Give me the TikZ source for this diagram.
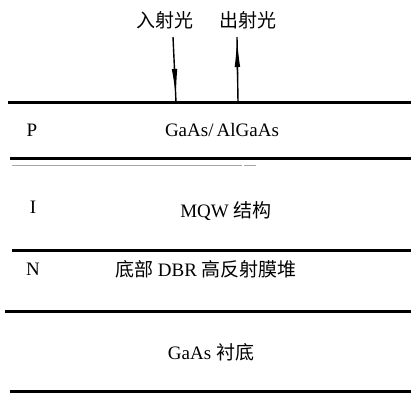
\documentclass[tikz,border=0pt]{standalone}
\usepackage{fontspec}
\setmainfont{Liberation Serif}
\newfontfamily\cjk{Noto Sans CJK SC}
\usetikzlibrary{arrows.meta}
\tikzset{
  layer/.style={line width=3pt},
  thin gray/.style={line width=1pt, draw=gray!70},
  lbl/.style={inner sep=0pt, font=\fontsize{19}{21}\selectfont},
  ray/.style={line width=1.4pt},
  rayhead/.style={-{Latex[length=30pt,width=5.5pt]}, line width=1.4pt}
}
\begin{document}
\begin{tikzpicture}[x=1pt,y=-1pt]
\useasboundingbox (0,0) rectangle (411,394);
% layer boundaries
\coordinate (l1a) at (8,102);   \coordinate (l1b) at (411,102);
\coordinate (l2a) at (10,158);  \coordinate (l2b) at (411,158);
\coordinate (g1a) at (12,165);  \coordinate (g1b) at (242,165);
\coordinate (g2a) at (244,165); \coordinate (g2b) at (256,165);
\coordinate (l3a) at (12,250);  \coordinate (l3b) at (411,250);
\coordinate (l4a) at (5,311);   \coordinate (l4b) at (411,311);
\coordinate (l5a) at (10,391);  \coordinate (l5b) at (411,391);
\draw[layer] (l1a) -- (l1b);
\draw[layer] (l2a) -- (l2b);
\draw[thin gray] (g1a) -- (g1b);
\draw[thin gray] (g2a) -- (g2b);
\draw[layer] (l3a) -- (l3b);
\draw[layer] (l4a) -- (l4b);
\draw[layer] (l5a) -- (l5b);
% labels
\node[lbl] (in)  at (165,20) {\cjk 入射光};
\node[lbl] (out) at (248,20) {\cjk 出射光};
\node[lbl] (p)   at (32,130) {P};
\node[lbl] (pt)  at (222,130) {GaAs/\,AlGaAs};
\node[lbl] (i)   at (33,207) {I};
\node[lbl] (it)  at (226,211) {MQW {\cjk 结构}};
\node[lbl] (n)   at (33,269) {N};
\node[lbl] (nt)  at (206,269) {{\cjk 底部} DBR {\cjk 高反射膜堆}};
\node[lbl] (s)   at (211,352) {GaAs {\cjk 衬底}};
% rays
\coordinate (inTop) at (173,37);
\coordinate (inMid) at (174.5,68);
\coordinate (inTip) at (176,99);
\coordinate (inBot) at (176,102);
\draw[ray] (inTop) -- (inBot);
\draw[rayhead] (inMid) -- (inTip);
\coordinate (outBot) at (238,102);
\coordinate (outMid) at (237.5,74);
\coordinate (outTip) at (237,37);
\draw[ray] (outBot) -- (outTip);
\draw[rayhead] (outMid) -- (outTip);
\end{tikzpicture}
\end{document}
